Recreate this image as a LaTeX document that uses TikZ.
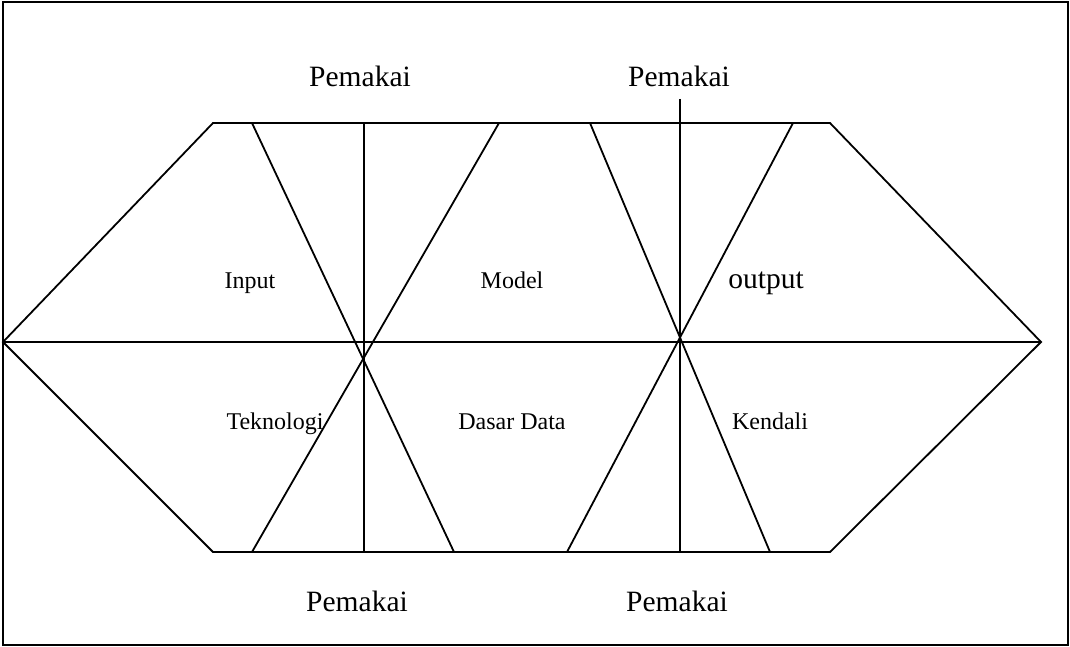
\documentclass[tikz,border=0pt]{standalone}
\usepackage{fontspec}
\setmainfont{Liberation Serif}
\usetikzlibrary{positioning}

\begin{document}
\begin{tikzpicture}[x=1pt, y=-1pt,
    line/.style={line width=1.8pt, color=black},
    user/.style={font=\fontsize{29.5}{31}\selectfont, anchor=base},
    part/.style={font=\fontsize{24}{26}\selectfont, anchor=base}
  ]
    \useasboundingbox (0,0) rectangle (1070,647);
    \draw[line width=2pt] (3,2) rectangle (1068,645);

    % hexagon corners
    \coordinate (lv) at (3,342);
    \coordinate (rv) at (1041,342);
    \coordinate (tl) at (213,123);
    \coordinate (tr) at (830,123);
    \coordinate (bl) at (213,552);
    \coordinate (br) at (830,552);

    % end points of the inner lines
    \coordinate (a1) at (252,123);  \coordinate (a2) at (454,552);
    \coordinate (b1) at (499,123);  \coordinate (b2) at (252,552);
    \coordinate (v1) at (364,123);  \coordinate (v2) at (364,552);
    \coordinate (c1) at (590,123);  \coordinate (c2) at (770,552);
    \coordinate (d1) at (793,123);  \coordinate (d2) at (567,552);
    \coordinate (w1) at (680,99);   \coordinate (w2) at (680,552);

    \draw[line] (lv) -- (tl) -- (tr) -- (rv) -- (br) -- (bl) -- cycle;
    \draw[line] (lv) -- (rv);
    \foreach \p in {a,b,v,c,d,w}
      \draw[line] (\p1) -- (\p2);

    \node[user] (ut1) at (360,87) {Pemakai};
    \node[user] (ut2) at (679,87) {Pemakai};
    \node[user] (ub1) at (357,611) {Pemakai};
    \node[user] (ub2) at (677,611) {Pemakai};

    \node[part] (inp) at (250,288) {Input};
    \node[part] (mod) at (512,288) {Model};
    \node[user] (out) at (766,288) {output};
    \node[part] (tek) at (275,429) {Teknologi};
    \node[part] (dat) at (512,429) {Dasar Data};
    \node[part] (ken) at (770,429) {Kendali};
  \end{tikzpicture}
\end{document}
